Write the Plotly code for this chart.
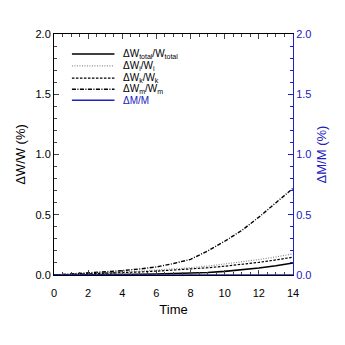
import plotly.graph_objects as go

time = [0, 1, 2, 3, 4, 5, 6, 7, 8, 9, 10, 11, 12, 13, 14]
dw_total = [0.0, 0.0, 0.001, 0.002, 0.004, 0.006, 0.008, 0.011, 0.015, 0.021, 0.03, 0.042, 0.058, 0.077, 0.10]
dw_i = [0.0, 0.005, 0.01, 0.017, 0.025, 0.032, 0.04, 0.05, 0.06, 0.074, 0.09, 0.108, 0.128, 0.15, 0.175]
dw_k = [0.0, 0.004, 0.008, 0.013, 0.019, 0.025, 0.032, 0.04, 0.049, 0.06, 0.073, 0.088, 0.105, 0.125, 0.148]
dw_m = [0.0, 0.008, 0.016, 0.025, 0.036, 0.05, 0.067, 0.095, 0.13, 0.2, 0.28, 0.37, 0.48, 0.6, 0.72]
dm = [0.0] * 15

names = ["ΔW<sub>total</sub>/W<sub>total</sub>", "ΔW<sub>i</sub>/W<sub>i</sub>",
         "ΔW<sub>k</sub>/W<sub>k</sub>", "ΔW<sub>m</sub>/W<sub>m</sub>", "ΔM/M"]
blue = "#2020c0"
styles = [dict(color="black", width=1.6, dash="solid"),
          dict(color="#8a8a8a", width=1.2, dash="1px,1.5px"),
          dict(color="black", width=1.2, dash="2.5px,1.5px"),
          dict(color="black", width=1.4, dash="4px,1.5px,1px,1.5px"),
          dict(color=blue, width=1.4, dash="solid")]
series = [dw_total, dw_i, dw_k, dw_m, dm]

fig = go.Figure()
for i in range(len(series)):
    fig.add_trace(go.Scatter(x=time, y=series[i], mode="lines", name=names[i], line=styles[i],
                             yaxis="y2" if i == 4 else "y", showlegend=False))

# compact legend drawn by hand (plotly's own legend rows are too tall)
row_y = [0.917, 0.868, 0.817, 0.771, 0.725]
for i in range(len(names)):
    fig.add_shape(type="line", xref="paper", yref="paper", x0=0.075, x1=0.253, y0=row_y[i], y1=row_y[i],
                  line=styles[i])
    fig.add_annotation(xref="paper", yref="paper", x=0.28, y=row_y[i], text=names[i], showarrow=False,
                       xanchor="left", yanchor="middle", font=dict(size=10, color=blue if i == 4 else "black"))

fig.update_layout(
    width=345, height=345,
    margin=dict(l=44, r=60, t=26, b=78),
    paper_bgcolor="white", plot_bgcolor="white",
    font=dict(family="Liberation Sans, Arial", size=11, color="black"),
    xaxis=dict(range=[0, 14], tickvals=[0, 2, 4, 6, 8, 10, 12, 14], ticks="inside", ticklen=5,
               showline=True, linecolor="black", linewidth=1, mirror="ticks", showgrid=False,
               zeroline=False, ticklabelstandoff=8, title=dict(text="Time", standoff=6),
               minor=dict(dtick=0.5, ticks="inside", ticklen=3)),
    yaxis=dict(range=[0, 2], tickvals=[0, 0.5, 1.0, 1.5, 2.0], tickformat=".1f", ticks="inside",
               ticklen=5, showline=True, linecolor="black", linewidth=1, showgrid=False,
               zeroline=False, title=dict(text="ΔW/W (%)", standoff=6),
               minor=dict(dtick=0.1, ticks="inside", ticklen=3)),
    yaxis2=dict(range=[0, 2], tickvals=[0, 0.5, 1.0, 1.5, 2.0], tickformat=".1f", ticks="inside",
                ticklen=5, overlaying="y", side="right", showline=True, linecolor=blue,
                linewidth=1, showgrid=False, zeroline=False, color=blue,
                tickfont=dict(color=blue),
                title=dict(text="ΔM/M (%)", font=dict(color=blue), standoff=6),
                minor=dict(dtick=0.1, ticks="inside", ticklen=3)),
)

fig.write_html("out.html")
